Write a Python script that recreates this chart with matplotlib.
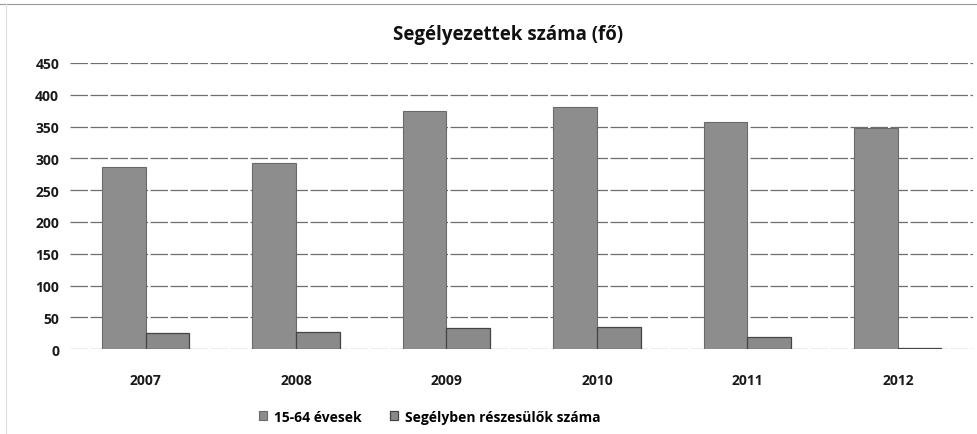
import numpy as np
import matplotlib.pyplot as plt

years = ["2007", "2008", "2009", "2010", "2011", "2012"]
age_15_64 = [287, 293, 375, 381, 357, 347]
recipients = [26, 27, 33, 35, 19, 2]
series_names = ["15-64 évesek", "Segélyben részesülők száma"]
title = "Segélyezettek száma (fő)"

plt.rcParams['font.family'] = ['Open Sans', 'DejaVu Sans']

fig = plt.figure(figsize=(9.77, 4.35), dpi=100)
ax = fig.add_axes([0.072, 0.195, 0.924, 0.658])

x = np.arange(len(years))
w = 0.29
ax.bar(x - w / 2, age_15_64, w, color='#8d8d8d', edgecolor='#6a6a6a', linewidth=0.8,
       label=series_names[0], zorder=3)
ax.bar(x + w / 2, recipients, w, color='#8a8a8a', edgecolor='#444444', linewidth=0.9,
       label=series_names[1], zorder=3)

ax.set_xlim(-0.5, len(years) - 0.5)
ax.set_ylim(0, 450)
ax.set_yticks(np.arange(0, 451, 50))
ax.set_xticks(x)
ax.set_xticklabels(years)
ax.tick_params(axis='y', length=0, labelsize=10, pad=8)
ax.tick_params(axis='x', length=0, labelsize=10, pad=17)
for lab in ax.get_xticklabels() + ax.get_yticklabels():
    lab.set_fontweight('bold')
    lab.set_color('#1a1a1a')
ax.grid(axis='y', color='#6e6e6e', linewidth=0.9, linestyle=(0, (14, 2)), zorder=0)
for s in ax.spines.values():
    s.set_visible(False)

fig.text(0.52, 0.92, title, ha='center', va='center', fontsize=13.5, fontweight='bold', color='#111111')

fig.legend(loc='center', bbox_to_anchor=(0.44, 0.04), ncol=2, frameon=False,
           prop={'weight': 'bold', 'size': 10}, handlelength=0.6, handleheight=0.6,
           columnspacing=2.0, handletextpad=0.5)

# faint outer frame
fig.add_artist(plt.Line2D([0.0, 1.0], [0.988, 0.988], color='#999999', linewidth=0.8))
fig.add_artist(plt.Line2D([0.006, 0.006], [0.0, 0.988], color='#dddddd', linewidth=0.8))

fig.savefig("out.png", dpi=100)
